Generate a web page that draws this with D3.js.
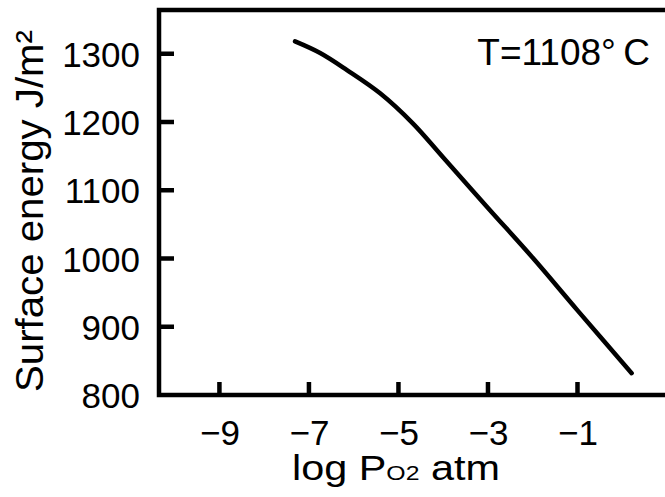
<!DOCTYPE html>
<html>
<head>
<meta charset="utf-8">
<script src="https://cdn.jsdelivr.net/npm/d3@7"></script>
<style>
    body { margin: 0; background: #fff; }
    text { font-family: "Liberation Sans", Arial, sans-serif; fill: #000; }
</style>
</head>
<body>
<div id="charts"></div>
<script>
// Values.
let log_po2 = [-7.31, -6.75, -6.15, -5.41, -4.68, -4.0, -3.0, -2.0, -1.0, 0.21];
let surface_energy = [1318, 1301, 1276, 1242, 1198, 1148, 1074, 1001, 924, 832];
let x_ticks = [-9, -7, -5, -3, -1];
let y_ticks = [800, 900, 1000, 1100, 1200, 1300];

let data = log_po2.map((x, i) => ({ x: x, y: surface_energy[i] }));

let svg_width = 665, svg_height = 497;
let margin = { top: 10, right: 0, bottom: 102, left: 159 },
    width = svg_width - margin.left - margin.right,
    height = svg_height - margin.top - margin.bottom;

let svg = d3.select("#charts")
    .append("svg")
        .attr("width", svg_width)
        .attr("height", svg_height)
    .append("g")
        .attr("transform", "translate(" + margin.left + "," + margin.top + ")");

// Scales.
let x_scale = d3.scaleLinear()
    .domain([-10.35, 0.955])
    .range([0, width]);
let y_scale = d3.scaleLinear()
    .domain([800, 1364])
    .range([height, 0]);

// X axis labels.
let x_axis = svg.append("g")
    .attr("transform", "translate(0," + height + ")")
    .call(d3.axisBottom(x_scale)
        .tickValues(x_ticks)
        .tickSize(0)
        .tickPadding(25)
        .tickFormat(d3.format("d")));
x_axis.select(".domain").remove();
x_axis.selectAll("text")
    .style("font-size", "35px")
    .style("font-family", "'Liberation Sans', Arial, sans-serif");

// Y axis labels.
let y_axis = svg.append("g")
    .call(d3.axisLeft(y_scale)
        .tickValues(y_ticks)
        .tickSize(0)
        .tickPadding(19)
        .tickFormat(d3.format("d")));
y_axis.select(".domain").remove();
y_axis.selectAll("text")
    .attr("dy", "0.36em")
    .style("font-size", "35px")
    .style("font-family", "'Liberation Sans', Arial, sans-serif");

// Frame (left, top, bottom; the right side is cut off) plus inward ticks.
let frame = d3.path();
frame.moveTo(width, 0);
frame.lineTo(0, 0);
frame.lineTo(0, height);
frame.lineTo(width, height);
x_ticks.forEach(d => {
    frame.moveTo(x_scale(d), height);
    frame.lineTo(x_scale(d), height - 13);
});
y_ticks.forEach(d => {
    frame.moveTo(0, y_scale(d));
    frame.lineTo(15, y_scale(d));
});
svg.append("path")
    .attr("fill", "none")
    .attr("stroke", "#000")
    .attr("stroke-width", 4.5)
    .attr("d", frame.toString());

// The curve.
let line = d3.line()
    .x(d => x_scale(d.x))
    .y(d => y_scale(d.y))
    .curve(d3.curveCatmullRom);
svg.append("path")
    .datum(data)
    .attr("fill", "none")
    .attr("stroke", "#000")
    .attr("stroke-width", 4.5)
    .attr("stroke-linecap", "round")
    .attr("d", line);

// Temperature note.
svg.append("text")
    .attr("x", 491)
    .attr("y", 55)
    .style("text-anchor", "end")
    .style("font-size", "37px")
    .text("T=1108°\u2009C");

// X axis label.
let x_label = svg.append("text")
    .attr("x", 133)
    .attr("y", 470)
    .attr("textLength", 208)
    .attr("lengthAdjust", "spacingAndGlyphs")
    .style("font-size", "35px");
x_label.append("tspan").text("log P");
x_label.append("tspan").style("font-size", "21px").text("O2");
x_label.append("tspan").text(" atm");

// Y axis label.
svg.append("text")
    .attr("transform", "rotate(-90)")
    .attr("x", -(211 - margin.top))
    .attr("y", 43 - margin.left)
    .attr("textLength", 362)
    .attr("lengthAdjust", "spacingAndGlyphs")
    .style("text-anchor", "middle")
    .style("font-size", "39px")
    .text("Surface energy J/m²");
</script>
</body>
</html>
